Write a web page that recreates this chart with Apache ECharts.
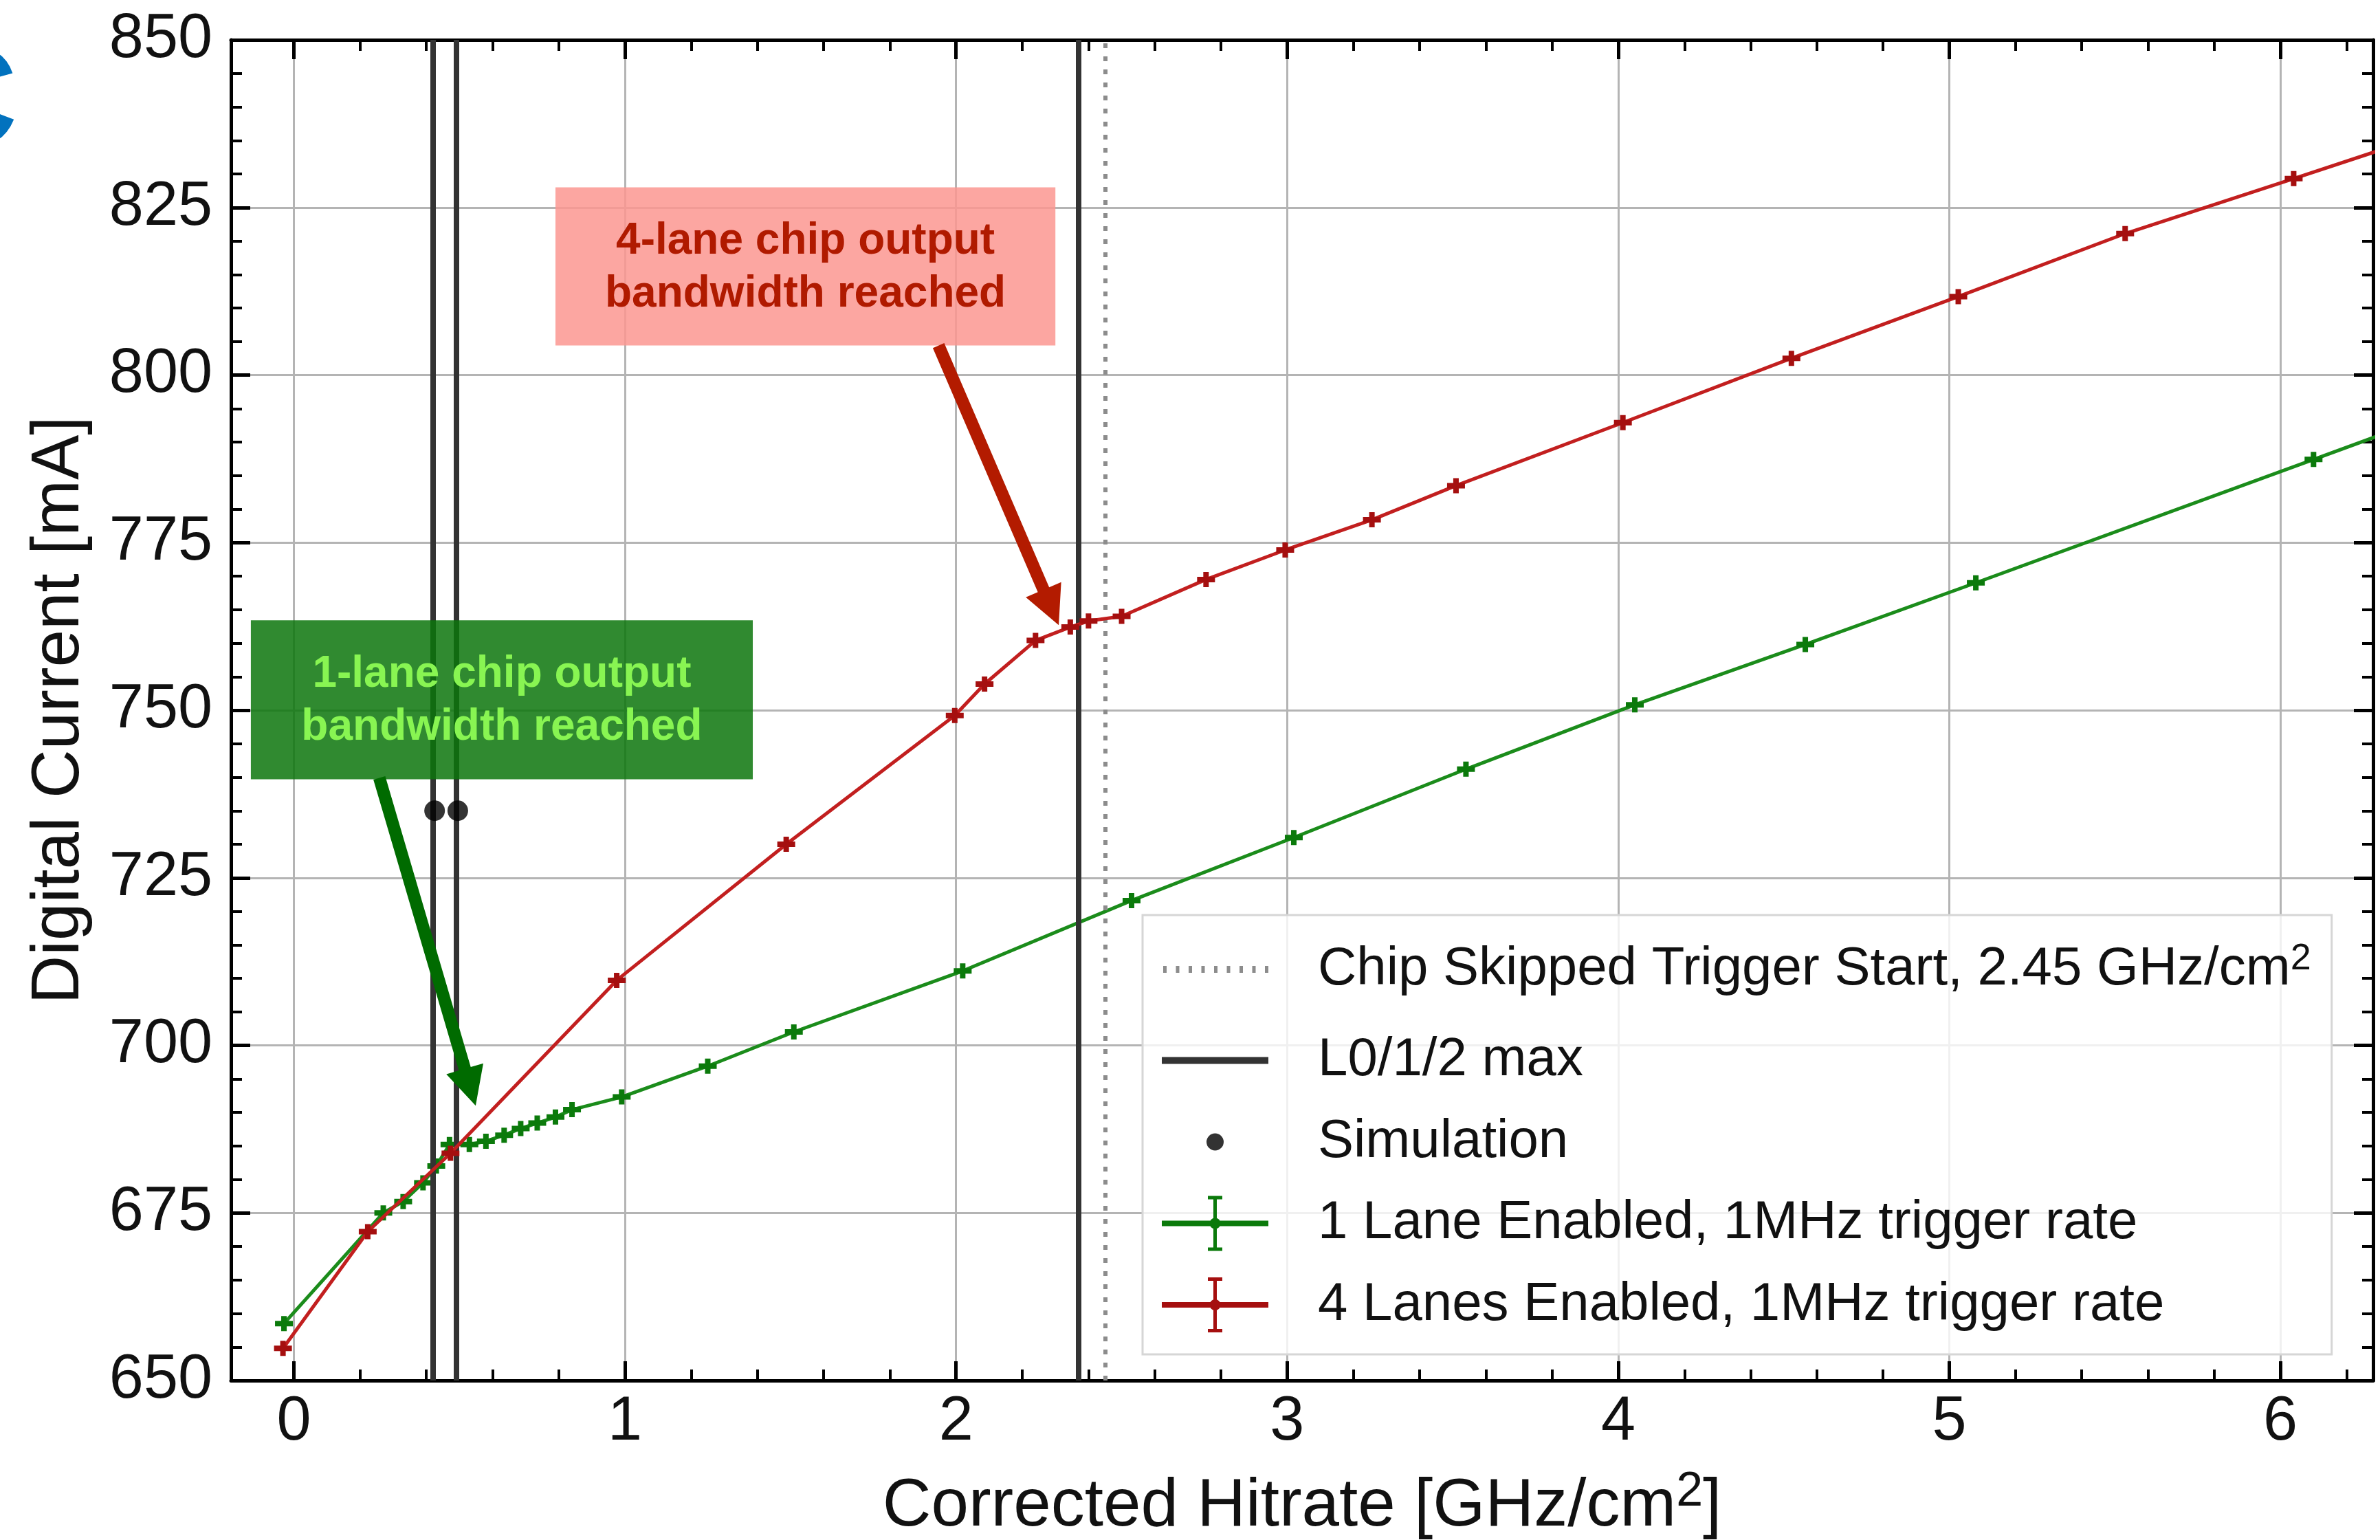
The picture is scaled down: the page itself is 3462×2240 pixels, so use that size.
<!DOCTYPE html>
<html>
<head>
<meta charset="utf-8">
<title>Digital current vs. corrected hit rate</title>
<script src="https://cdn.jsdelivr.net/npm/echarts@6/dist/echarts.min.js"></script>
<style>
  html, body { margin: 0; padding: 0; background: #ffffff; }
  #chart { width: 3462px; height: 2240px; }
</style>
</head>
<body>
<div id="chart"></div>
<script>
// ---- measurements -------------------------------------------------------
// 1 lane enabled, 1 MHz trigger rate
const lane1Hitrate = [-0.03, 0.27, 0.33, 0.39, 0.43, 0.47, 0.53, 0.58, 0.635, 0.685, 0.735, 0.79, 0.84, 0.99,
                      1.25, 1.51, 2.02, 2.53, 3.02, 3.54, 4.05, 4.565, 5.08, 6.10, 6.62];
const lane1Current = [658.5, 675.0, 676.7, 679.5, 682.0, 685.2, 685.2, 685.7, 686.6, 687.6, 688.4, 689.3, 690.4, 692.3,
                      696.9, 702.0, 711.1, 721.6, 731.0, 741.2, 750.8, 759.8, 769.0, 787.4, 796.8];

// 4 lanes enabled, 1 MHz trigger rate
const lane4Hitrate = [-0.033, 0.223, 0.473, 0.975, 1.487, 1.996, 2.086, 2.24, 2.345, 2.40, 2.50, 2.755, 2.994,
                      3.256, 3.51, 4.014, 4.523, 5.027, 5.531, 6.04, 6.55];
const lane4Current = [654.8, 672.2, 683.9, 709.7, 730.0, 749.2, 753.9, 760.4, 762.4, 763.3, 764.0, 769.5, 773.9,
                      778.4, 783.5, 792.9, 802.5, 811.7, 821.1, 829.3, 837.6];

// simulated current at the L0/1/2 hit rates
const simulationHitrate = [0.425, 0.495];
const simulationCurrent = [735, 735];

// reference hit rates
const l012MaxHitrate = [0.425, 0.495, 2.37];
const skippedTriggerStart = 2.45;

// axis ranges
const hitrateRange = [-0.19, 6.28];
const currentRange = [650, 850];
const currentStep = 25;

// ---- styling --------------------------------------------------------------
const FONT = '"Liberation Sans", Arial, Helvetica, sans-serif';
const GREEN_LINE = '#1b8c1b', GREEN_MARK = '#0b7a0b';
const RED_LINE = '#c21f1f', RED_MARK = '#a50f0f';

const zip = (xs, ys) => xs.map((x, i) => [x, ys[i]]);

// small "+" marker (point with short error bars)
const MARKER = 'path://M0,7h9V0h8v7h9v8h-9v7H9v-7H0Z';

// legend icons: 222 x 80 box, drawing in the left 155 px (all sub-paths clockwise)
const BOX = 'M0,0h0.1v0.1h-0.1Z M221.9,79.9h0.1v0.1h-0.1Z ';
const dots = Array.from({ length: 9 }, (_, i) => `M${2 + i * 18.5},35h5v10h-5Z`).join(' ');
const ICON_DOTTED = 'path://' + BOX + dots;
const ICON_SOLID = 'path://' + BOX + 'M0,35h155v10H0Z';
const ICON_DOT = 'path://' + BOX + 'M65,40a12.5,12.5 0 1,1 25,0a12.5,12.5 0 1,1 -25,0Z';
const ICON_ERRBAR = 'path://' + BOX +
  'M0,36h155v8H0Z M75,0h5v80h-5Z M67,0h21v5H67Z M67,75h21v5H67Z M69.5,40a8,8 0 1,1 16,0a8,8 0 1,1 -16,0Z';

const skippedName = `Chip Skipped Trigger Start, ${skippedTriggerStart} GHz/cm2`;
const l012Name = 'L0/1/2 max';
const simName = 'Simulation';
const lane1Name = '1 Lane Enabled, 1MHz trigger rate';
const lane4Name = '4 Lanes Enabled, 1MHz trigger rate';

const tickLine = { color: '#000', width: 5 };
const minorLine = { color: '#000', width: 4 };

function frameAxis(position, extra) {
  return Object.assign({
    type: 'value',
    position: position,
    axisLine: { show: true, onZero: false, lineStyle: { color: '#000', width: 5 } },
    axisTick: { show: true, inside: true, length: 28, lineStyle: tickLine },
    minorTick: { show: true, splitNumber: 5, length: 16, lineStyle: minorLine },
    axisLabel: { show: false },
    splitLine: { show: false }
  }, extra);
}

const chart = echarts.init(document.getElementById('chart'), null, { renderer: 'canvas', width: 3462, height: 2240 });

chart.setOption({
  animation: false,
  backgroundColor: '#ffffff',
  grid: { left: 336, right: 10, top: 58, bottom: 232, outerBoundsMode: 'none', containLabel: false },
  xAxis: [
    frameAxis('bottom', {
      min: hitrateRange[0], max: hitrateRange[1], splitNumber: 6,
      axisLabel: { show: true, margin: 16, fontSize: 90, fontFamily: FONT, color: '#111',
                   showMinLabel: false, showMaxLabel: false },
      splitLine: { show: true, lineStyle: { color: '#b4b4b4', width: 3 } }
    }),
    frameAxis('top', { min: hitrateRange[0], max: hitrateRange[1], splitNumber: 6 })
  ],
  yAxis: [
    frameAxis('left', {
      min: currentRange[0], max: currentRange[1], interval: currentStep,
      name: 'Digital Current [mA]', nameLocation: 'middle', nameGap: 200, nameMoveOverlap: false,
      nameTextStyle: { fontSize: 98, fontFamily: FONT, color: '#111' },
      axisLabel: { show: true, margin: 27, fontSize: 90, fontFamily: FONT, color: '#111' },
      splitLine: { show: true, lineStyle: { color: '#b4b4b4', width: 3 } }
    }),
    frameAxis('right', { min: currentRange[0], max: currentRange[1], interval: currentStep })
  ],
  legend: {
    orient: 'vertical', left: 1662, top: 1331,
    padding: [25, 30, 32, 28],
    itemWidth: 222, itemHeight: 80, itemGap: 38.5,
    backgroundColor: 'rgba(255,255,255,0.8)', borderColor: '#d6d6d6', borderWidth: 3,
    selectedMode: false,
    formatter: name => name === skippedName
      ? `Chip Skipped Trigger Start, ${skippedTriggerStart} GHz/cm{s|2}`
      : name,
    textStyle: {
      fontSize: 78, fontFamily: FONT, color: '#111', lineHeight: 80,
      rich: { s: { fontSize: 54, fontFamily: FONT, color: '#111', lineHeight: 108, padding: [0, 0, 30, 0] } }
    },
    data: [
      { name: skippedName, icon: ICON_DOTTED },
      { name: l012Name, icon: ICON_SOLID },
      { name: simName, icon: ICON_DOT },
      { name: lane1Name, icon: ICON_ERRBAR },
      { name: lane4Name, icon: ICON_ERRBAR }
    ]
  },
  series: [
    {
      name: skippedName, type: 'line', data: [], symbol: 'none', z: 2,
      color: '#8c8c8c', itemStyle: { color: '#8c8c8c' },
      lineStyle: { color: '#8c8c8c', width: 6, type: [7, 12] },
      markLine: {
        silent: true, symbol: ['none', 'none'], label: { show: false }, animation: false,
        emphasis: { disabled: true },
        lineStyle: { color: '#8c8c8c', width: 6, type: [7, 12] },
        data: [{ xAxis: skippedTriggerStart }]
      }
    },
    {
      name: l012Name, type: 'line', data: [], symbol: 'none', z: 2,
      color: '#333333', itemStyle: { color: '#333333' },
      lineStyle: { color: '#333333', width: 8 },
      markLine: {
        silent: true, symbol: ['none', 'none'], label: { show: false }, animation: false,
        emphasis: { disabled: true },
        lineStyle: { color: '#333333', width: 8, type: 'solid' },
        data: l012MaxHitrate.map(x => ({ xAxis: x }))
      }
    },
    {
      name: simName, type: 'scatter', z: 6,
      data: zip(simulationHitrate, simulationCurrent),
      symbol: 'circle', symbolSize: 30,
      itemStyle: { color: '#000000' }, color: '#000000'
    },
    {
      name: lane1Name, type: 'line', z: 4,
      data: zip(lane1Hitrate, lane1Current),
      color: GREEN_MARK,
      symbol: MARKER, symbolSize: [26, 22], showSymbol: true,
      itemStyle: { color: GREEN_MARK },
      lineStyle: { color: GREEN_LINE, width: 5 }
    },
    {
      name: lane4Name, type: 'line', z: 5,
      data: zip(lane4Hitrate, lane4Current),
      color: RED_MARK,
      symbol: MARKER, symbolSize: [26, 22], showSymbol: true,
      itemStyle: { color: RED_MARK },
      lineStyle: { color: RED_LINE, width: 5 }
    }
  ]
});

// ---- annotations, anchored in data coordinates ----------------------------
const annotations = [
  {
    text: '4-lane chip output\nbandwidth reached',
    corner1: [0.79, 828.0], corner2: [2.30, 804.4],
    tail: [1.947, 804.4], tip: [2.31, 762.7],
    fill: 'rgba(252,151,144,0.85)', textColor: '#b01a00', arrowColor: '#b31b00'
  },
  {
    text: '1-lane chip output\nbandwidth reached',
    corner1: [-0.13, 763.4], corner2: [1.386, 739.7],
    tail: [0.258, 739.9], tip: [0.549, 691.0],
    fill: 'rgba(12,118,12,0.85)', textColor: '#88f552', arrowColor: '#006b00'
  }
];

const toPx = p => chart.convertToPixel({ gridIndex: 0 }, p);

function arrowPolygon(tail, tip, shaft, headW, headL) {
  const dx = tip[0] - tail[0], dy = tip[1] - tail[1];
  const len = Math.hypot(dx, dy);
  const ux = dx / len, uy = dy / len, nx = -uy, ny = ux;
  const bx = tip[0] - ux * headL, by = tip[1] - uy * headL;
  return [
    [tail[0] + nx * shaft / 2, tail[1] + ny * shaft / 2],
    [bx + nx * shaft / 2, by + ny * shaft / 2],
    [bx + nx * headW / 2, by + ny * headW / 2],
    [tip[0], tip[1]],
    [bx - nx * headW / 2, by - ny * headW / 2],
    [bx - nx * shaft / 2, by - ny * shaft / 2],
    [tail[0] - nx * shaft / 2, tail[1] - ny * shaft / 2]
  ];
}

const graphics = [];
annotations.forEach(a => {
  const p1 = toPx(a.corner1), p2 = toPx(a.corner2);
  const x = Math.min(p1[0], p2[0]), y = Math.min(p1[1], p2[1]);
  const w = Math.abs(p2[0] - p1[0]), h = Math.abs(p2[1] - p1[1]);
  graphics.push({
    type: 'rect', z: 20, silent: true,
    shape: { x: x, y: y, width: w, height: h },
    style: { fill: a.fill }
  });
  graphics.push({
    type: 'text', z: 21, silent: true,
    x: x + w / 2, y: y + h / 2 + 2,
    style: {
      text: a.text, align: 'center', verticalAlign: 'middle',
      fontSize: 64, fontWeight: 'bold', fontFamily: FONT, lineHeight: 77,
      fill: a.textColor
    }
  });
  graphics.push({
    type: 'polygon', z: 22, silent: true,
    shape: { points: arrowPolygon(toPx(a.tail), toPx(a.tip), 18, 56, 56) },
    style: { fill: a.arrowColor }
  });
});

// x-axis title, centred under the plot area
const plotLeft = toPx([hitrateRange[0], currentRange[0]]);
const plotRight = toPx([hitrateRange[1], currentRange[0]]);
graphics.push({
  type: 'text', z: 30, silent: true,
  x: (plotLeft[0] + plotRight[0]) / 2, y: plotLeft[1] + 184,
  style: {
    text: '{n|Corrected Hitrate [GHz/cm}{s|2}{n|]}',
    align: 'center', verticalAlign: 'middle',
    rich: {
      n: { fontSize: 98, fontFamily: FONT, fill: '#111', lineHeight: 110 },
      s: { fontSize: 70, fontFamily: FONT, fill: '#111', lineHeight: 80, padding: [0, 0, 42, 0] }
    }
  }
});

// clipped corner of the page logo
graphics.push({
  type: 'text', z: 30, silent: true,
  x: 26, y: 155,
  style: {
    text: 'C', align: 'right', verticalAlign: 'middle',
    fontSize: 210, fontWeight: 'bold', fontFamily: FONT, fill: '#0272be'
  }
});

chart.setOption({ graphic: graphics });
</script>
</body>
</html>
